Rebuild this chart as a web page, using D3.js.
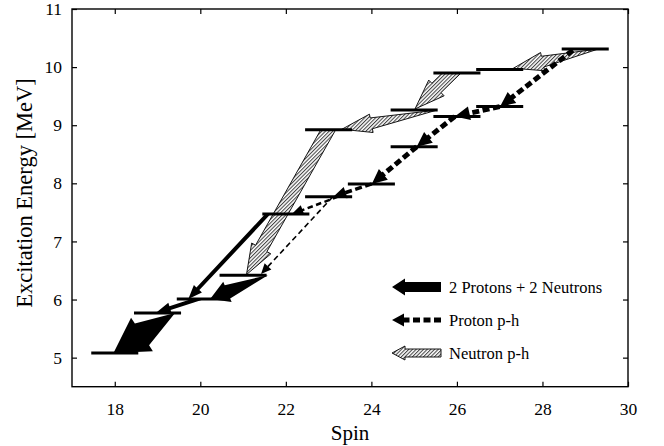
<!DOCTYPE html>
<html>
<head>
<meta charset="utf-8">
<script src="https://cdn.jsdelivr.net/npm/d3@7"></script>
<style>
  body { margin: 0; background: #fff; }
  svg { display: block; font-family: "Liberation Serif", "DejaVu Serif", serif; }
</style>
</head>
<body>
<svg id="chart" width="664" height="446"></svg>
<script>
// level scheme: spin and excitation energy (MeV) of each state
const levelSpin = [18, 19, 20, 21, 22, 23, 24, 25, 23, 25, 26, 27, 26, 27, 29];
const levelEnergy = [5.08, 5.77, 6.01, 6.42, 7.47, 7.77, 7.99, 8.63, 8.92, 9.26, 9.15, 9.32, 9.90, 9.96, 10.31];

// transitions: [spinFrom, energyFrom, spinTo, energyTo, intensity, tapered]
const pairTransitions = [
  [21.58, 7.47, 19.72, 6.01, 1, false],
  [21.58, 6.42, 20.23, 6.01, 2.2, true],
  [19.95, 6.01, 18.98, 5.78, 1, false],
  [19.41, 5.77, 17.97, 5.08, 4, true]
];
const protonTransitions = [
  [28.71, 10.29, 27.01, 9.32, 1],
  [27.0, 9.32, 25.95, 9.15, 1],
  [25.95, 9.15, 25.06, 8.63, 1],
  [25.06, 8.63, 24.01, 7.99, 1],
  [24.01, 7.99, 23.11, 7.77, 0.7],
  [23.22, 7.77, 22.14, 7.47, 0.5],
  [23.1, 7.77, 21.42, 6.44, 0.32]
];
const neutronTransitions = [
  [29.3, 10.31, 27.32, 9.98, 0.85, true],
  [25.88, 9.90, 25.02, 9.28, 1, false],
  [25.53, 9.26, 23.31, 8.93, 0.85, true],
  [22.99, 8.92, 21.08, 6.43, 1, false]
];

const spinTicks = [18, 20, 22, 24, 26, 28, 30];
const energyTicks = [5, 6, 7, 8, 9, 10, 11];
const legendLabels = ['2 Protons + 2 Neutrons', 'Proton p-h', 'Neutron p-h'];

const svg = d3.select('#chart');
const plotLeft = 72, plotRight = 628, plotTop = 9, plotBottom = 386.7;

const x = d3.scaleLinear().domain([17, 30]).range([plotLeft, plotRight]);
const y = d3.scaleLinear().domain([4.5, 11]).range([plotBottom, plotTop]);

// hatch for neutron arrows
const defs = svg.append('defs');
const pat = defs.append('pattern')
  .attr('id', 'hatch')
  .attr('width', 2.6)
  .attr('height', 2.6)
  .attr('patternUnits', 'userSpaceOnUse')
  .attr('patternTransform', 'rotate(45)');
pat.append('rect').attr('width', 2.6).attr('height', 2.6).attr('fill', '#fff');
pat.append('line')
  .attr('x1', 0.5).attr('y1', 0).attr('x2', 0.5).attr('y2', 2.6)
  .attr('stroke', '#444').attr('stroke-width', 1.1);

// polygon for an arrow, tail cut along the level line
const arrowPoints = (x0, y0, x1, y1, tailW, bodyW, headW, headL) => {
  const dx = x1 - x0, dy = y1 - y0;
  const len = Math.hypot(dx, dy);
  const ux = dx / len, uy = dy / len;
  const nx = -uy, ny = ux;
  const bx = x1 - ux * headL, by = y1 - uy * headL;
  let tl, tr;
  if (tailW > 0 && Math.abs(uy) > 0.3) {
    tl = [x0 - (tailW / 2) / uy, y0];
    tr = [x0 + (tailW / 2) / uy, y0];
  } else {
    tl = [x0 + nx * tailW / 2, y0 + ny * tailW / 2];
    tr = [x0 - nx * tailW / 2, y0 - ny * tailW / 2];
  }
  return [
    tl,
    [bx + nx * bodyW / 2, by + ny * bodyW / 2],
    [bx + nx * headW / 2, by + ny * headW / 2],
    [x1, y1],
    [bx - nx * headW / 2, by - ny * headW / 2],
    [bx - nx * bodyW / 2, by - ny * bodyW / 2],
    tr
  ];
};
const toPath = pts => 'M' + pts.map(p => p[0].toFixed(2) + ',' + p[1].toFixed(2)).join('L') + 'Z';

// axes, ticks inward on all four sides
const axisFont = g => g.selectAll('text')
  .style('font-family', '"Liberation Serif", serif')
  .style('font-size', '17.5px')
  .attr('fill', '#000');

svg.append('g')
  .attr('transform', `translate(0,${plotBottom})`)
  .call(d3.axisBottom(x).tickValues(spinTicks).tickSizeInner(-5).tickSizeOuter(0).tickPadding(16).tickFormat(d3.format('d')))
  .call(axisFont)
  .call(g => g.select('.domain').remove());
svg.append('g')
  .attr('transform', `translate(0,${plotTop})`)
  .call(d3.axisTop(x).tickValues(spinTicks).tickSizeInner(-5).tickSizeOuter(0).tickFormat(''))
  .call(g => g.select('.domain').remove());
svg.append('g')
  .attr('transform', `translate(${plotLeft},0)`)
  .call(d3.axisLeft(y).tickValues(energyTicks).tickSizeInner(-5).tickSizeOuter(0).tickPadding(10).tickFormat(d3.format('d')))
  .call(axisFont)
  .call(g => g.select('.domain').remove());
svg.append('g')
  .attr('transform', `translate(${plotRight},0)`)
  .call(d3.axisRight(y).tickValues(energyTicks).tickSizeInner(-5).tickSizeOuter(0).tickFormat(''))
  .call(g => g.select('.domain').remove());

svg.selectAll('.tick line').attr('stroke', '#000').attr('stroke-width', 1.2);

svg.append('rect')
  .attr('x', plotLeft).attr('y', plotTop)
  .attr('width', plotRight - plotLeft).attr('height', plotBottom - plotTop)
  .attr('fill', 'none').attr('stroke', '#000').attr('stroke-width', 1.4);

svg.append('text')
  .attr('x', (plotLeft + plotRight) / 2).attr('y', 440)
  .attr('text-anchor', 'middle')
  .style('font-size', '21px')
  .text('Spin');
svg.append('text')
  .attr('transform', `translate(32,193) rotate(-90)`)
  .attr('text-anchor', 'middle')
  .style('font-size', '22.5px')
  .text('Excitation Energy [MeV]');

// neutron p-h arrows (hatched)
svg.append('g').selectAll('path')
  .data(neutronTransitions)
  .join('path')
  .attr('d', d => {
    const w = 13 * d[4];
    return toPath(arrowPoints(x(d[0]), y(d[1]), x(d[2]), y(d[3]), d[5] ? 0 : w, w, 22 * d[4], 30));
  })
  .attr('fill', 'url(#hatch)')
  .attr('stroke', '#000')
  .attr('stroke-width', 0.9)
  .attr('stroke-linejoin', 'miter');

// levels
svg.append('g').selectAll('line')
  .data(levelSpin.map((s, i) => [s, levelEnergy[i]]))
  .join('line')
  .attr('x1', d => x(d[0] - 0.55))
  .attr('x2', d => x(d[0] + 0.55))
  .attr('y1', d => y(d[1]))
  .attr('y2', d => y(d[1]))
  .attr('stroke', '#000')
  .attr('stroke-width', 3);

// proton p-h arrows (dashed)
const protonG = svg.append('g');
protonTransitions.forEach(d => {
  const x0 = x(d[0]), y0 = y(d[1]), x1 = x(d[2]), y1 = y(d[3]);
  const headW = 7 + 7 * d[4], headL = 8 + 7 * d[4];
  const len = Math.hypot(x1 - x0, y1 - y0);
  const ux = (x1 - x0) / len, uy = (y1 - y0) / len;
  protonG.append('line')
    .attr('x1', x0).attr('y1', y0)
    .attr('x2', x1 - ux * headL * 0.8).attr('y2', y1 - uy * headL * 0.8)
    .attr('stroke', '#000')
    .attr('stroke-width', 5 * d[4] < 1.5 ? 1.5 : 5 * d[4])
    .attr('stroke-dasharray', d[4] > 0.6 ? '7,3.5' : '5.5,3.5');
  protonG.append('path')
    .attr('d', toPath(arrowPoints(x0, y0, x1, y1, 0, 0, headW, headL)))
    .attr('fill', '#000');
});

// 2 protons + 2 neutrons arrows (black)
svg.append('g').selectAll('path')
  .data(pairTransitions)
  .join('path')
  .attr('d', d => {
    const i = d[4];
    if (d[5]) {
      return toPath(arrowPoints(x(d[0]), y(d[1]), x(d[2]), y(d[3]), 0, 6.5 * i, 10 * i, 8.5 * i));
    }
    return toPath(arrowPoints(x(d[0]), y(d[1]), x(d[2]), y(d[3]), 4, 4, 11, 14));
  })
  .attr('fill', '#000');

// legend
const legend = svg.append('g');
const lx0 = 392, lx1 = 441;
const rowY = [287, 320, 353];

legend.append('path')
  .attr('d', toPath(arrowPoints(lx1, rowY[0], lx0, rowY[0], 10, 10, 17, 13)))
  .attr('fill', '#000');

legend.append('line')
  .attr('x1', lx1).attr('y1', rowY[1])
  .attr('x2', lx0 + 10).attr('y2', rowY[1])
  .attr('stroke', '#000').attr('stroke-width', 5)
  .attr('stroke-dasharray', '7,3.5');
legend.append('path')
  .attr('d', toPath(arrowPoints(lx1, rowY[1], lx0, rowY[1], 0, 0, 13, 12)))
  .attr('fill', '#000');

legend.append('path')
  .attr('d', toPath(arrowPoints(lx1, rowY[2], lx0, rowY[2], 8, 8, 14, 13)))
  .attr('fill', 'url(#hatch)')
  .attr('stroke', '#000')
  .attr('stroke-width', 0.9);

legend.selectAll('text')
  .data(legendLabels)
  .join('text')
  .attr('x', 449)
  .attr('y', (d, i) => rowY[i])
  .attr('dy', '0.35em')
  .style('font-size', '16.5px')
  .text(d => d);
</script>
</body>
</html>
